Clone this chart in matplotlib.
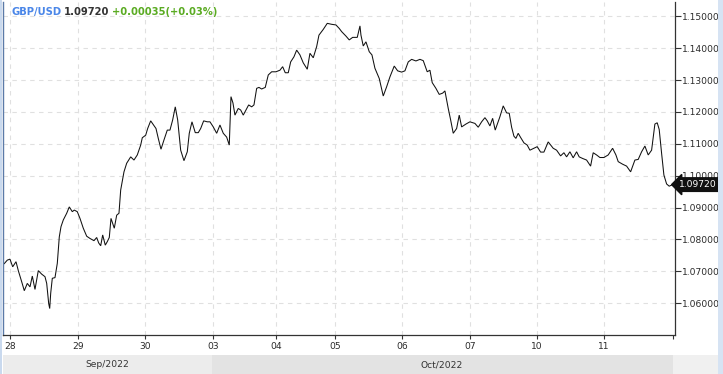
import matplotlib
matplotlib.use("Agg")
import matplotlib.pyplot as plt
from matplotlib.patches import Rectangle
import matplotlib.transforms as mtransforms

# ---- data (hours since start of chart window, GBP/USD price) ----
hours = [0.0, 0.36, 1.56, 2.53, 3.51, 4.71, 5.54, 6.77, 7.71, 8.80, 9.77, 10.61, 11.58, 12.78,
         14.01, 15.20, 15.82, 16.54, 16.91, 17.27, 17.85, 18.82, 19.66, 20.38, 21.0, 21.83, 23.06,
         24.0, 25.09, 25.81, 26.90, 27.87, 29.07, 30.30, 31.49, 32.94, 33.92, 34.64, 35.37, 36.09,
         37.03, 37.76, 38.48, 39.10, 40.29, 41.16, 41.99, 42.61, 43.80, 44.78, 46.23, 47.42, 48.62,
         49.85, 50.43, 51.66, 52.38, 53.47, 55.39, 56.22, 57.20, 58.28, 59.48, 60.45, 61.43, 62.37,
         63.24, 64.33, 65.52, 66.72, 67.44, 68.42, 69.61, 70.70, 71.57, 72.65, 73.96, 74.93, 76.13,
         77.36, 78.55, 79.75, 80.98, 81.92, 82.54, 83.26, 83.98, 85.18, 86.05, 86.99, 87.97, 88.94,
         90.03, 90.86, 91.84, 92.67, 93.65, 94.95, 96.04, 97.27, 98.83, 100.27, 101.25, 102.19,
         103.28, 104.15, 105.34, 106.32, 107.51, 108.71, 110.16, 111.13, 112.33, 113.56, 114.39,
         115.95, 117.40, 118.99, 120.55, 121.74, 122.61, 124.17, 125.36, 126.59, 128.26, 129.24,
         129.60, 130.43, 131.41, 132.60, 133.58, 134.66, 136.22, 137.67, 138.90, 140.09, 141.65,
         142.88, 144.33, 145.52, 146.72, 147.95, 149.50, 150.95, 152.15, 153.59, 154.57, 155.40,
         156.74, 157.94, 159.17, 160.0, 161.20, 162.07, 163.01, 164.24, 165.18, 166.05, 167.61,
         169.05, 170.86, 172.06, 173.29, 174.48, 175.32, 176.29, 177.27, 178.21, 179.91, 181.11,
         182.34, 183.28, 184.15, 184.98, 185.70, 186.53, 187.40, 188.60, 189.79, 190.77, 192.22,
         193.41, 194.64, 195.84, 197.39, 199.20, 200.43, 201.88, 203.08, 204.05, 205.25, 206.44,
         207.67, 208.61, 209.85, 211.29, 212.74, 213.68, 214.91, 216.11, 217.56, 219.11, 220.71,
         221.91, 222.74, 224.33, 225.78, 227.23, 228.78, 229.98, 231.21, 232.40, 233.60, 234.83,
         236.02, 236.86, 237.58, 238.45, 239.28, 240.26, 241.20, 242.43]

prices = [1.0730, 1.0723, 1.0735, 1.0738, 1.0714, 1.0730, 1.0702, 1.0667, 1.0639, 1.0662, 1.0651,
          1.0685, 1.0643, 1.0702, 1.0691, 1.0683, 1.0662, 1.0599, 1.0583, 1.0631, 1.0678, 1.0680,
          1.0725, 1.0808, 1.0840, 1.0861, 1.0882, 1.0902, 1.0887, 1.0892, 1.0887, 1.0866, 1.0835,
          1.0810, 1.0803, 1.0796, 1.0806, 1.0789, 1.0780, 1.0814, 1.0782, 1.0793, 1.0806, 1.0866,
          1.0835, 1.0876, 1.0882, 1.0955, 1.1012, 1.1039, 1.1059, 1.1049, 1.1065, 1.1096, 1.1119,
          1.1127, 1.1148, 1.1172, 1.1148, 1.1117, 1.1083, 1.1112, 1.1143, 1.1143, 1.1175, 1.1216,
          1.1175, 1.1080, 1.1047, 1.1075, 1.1133, 1.1169, 1.1135, 1.1135, 1.1148, 1.1172, 1.1169,
          1.1169, 1.1153, 1.1133, 1.1159, 1.1133, 1.1121, 1.1096, 1.1248, 1.1228, 1.1190, 1.1211,
          1.1206, 1.1190, 1.1206, 1.1222, 1.1216, 1.1222, 1.1274, 1.1277, 1.1272, 1.1277, 1.1316,
          1.1326, 1.1326, 1.1331, 1.1342, 1.1323, 1.1323, 1.1357, 1.1373, 1.1394, 1.1379, 1.1354,
          1.1334, 1.1384, 1.1370, 1.1405, 1.1441, 1.1459, 1.1478, 1.1475, 1.1473, 1.1462, 1.1452,
          1.1438, 1.1426, 1.1434, 1.1434, 1.1470, 1.1441, 1.1407, 1.1420, 1.1389, 1.1379, 1.1337,
          1.1305, 1.1250, 1.1279, 1.1310, 1.1344, 1.1329, 1.1325, 1.1329, 1.1357, 1.1365, 1.1360,
          1.1365, 1.1361, 1.1326, 1.1331, 1.1292, 1.1274, 1.1255, 1.1259, 1.1266, 1.1211, 1.1175,
          1.1133, 1.1148, 1.1190, 1.1153, 1.1162, 1.1169, 1.1164, 1.1152, 1.1169, 1.1182, 1.1172,
          1.1156, 1.1180, 1.1143, 1.1185, 1.1219, 1.1197, 1.1196, 1.1152, 1.1124, 1.1117, 1.1133,
          1.1120, 1.1103, 1.1096, 1.1080, 1.1086, 1.1091, 1.1074, 1.1074, 1.1106, 1.1086, 1.1080,
          1.1062, 1.1072, 1.1059, 1.1075, 1.1056, 1.1075, 1.1059, 1.1054, 1.1049, 1.1030, 1.1072,
          1.1065, 1.1057, 1.1057, 1.1065, 1.1086, 1.1065, 1.1044, 1.1036, 1.1030, 1.1012, 1.1049,
          1.1051, 1.1075, 1.1093, 1.1065, 1.1080, 1.1162, 1.1166, 1.1145, 1.1070, 1.1002, 1.0974,
          1.0967, 1.0972]

tick_hours = [2.53, 27.15, 51.4, 76.0, 98.8, 120.2, 144.4, 169.1, 193.3, 217.6]
tick_labels = ["28", "29", "30", "03", "04", "05", "06", "07", "10", "11"]
price_ticks = [1.06, 1.07, 1.08, 1.09, 1.10, 1.11, 1.12, 1.13, 1.14, 1.15]
month_labels = ["Sep/2022", "Oct/2022"]
symbol = "GBP/USD"
last_price = "1.09720"
change_text = "+0.00035(+0.03%)"

W, H = 723, 374
fig = plt.figure(figsize=(W / 100, H / 100), dpi=100)
fig.patch.set_facecolor("white")

def fx(px):
    return px / W

def fy(py):
    return 1 - py / H

# axes box (pixels): left 3, right 675, top 2, bottom 335
ax = fig.add_axes([fx(3), fy(335), fx(675) - fx(3), fy(2) - fy(335)])
ax.set_facecolor("white")
ax.plot(hours, prices, color="#111111", lw=0.75, solid_joinstyle="miter")

ax.set_xlim(0, 243.3)
ax.set_ylim(1.0500, 1.1545)

ax.set_xticks(tick_hours)
ax.set_xticklabels(tick_labels)
ax.set_xticks([242.6], minor=True)
ax.set_yticks(price_ticks)
ax.set_yticklabels([f"{v:.5f}" for v in price_ticks])

ax.yaxis.tick_right()
ax.tick_params(axis="y", which="major", direction="out", length=4, width=0.8, color="#333333",
               labelsize=6.6, labelcolor="#2a2a2a", pad=1)
ax.tick_params(axis="x", which="both", direction="out", length=3, width=0.8, color="#333333",
               labelsize=6.6, labelcolor="#2a2a2a", pad=2)
for lab in ax.get_xticklabels() + ax.get_yticklabels():
    lab.set_family("DejaVu Sans")

ax.grid(True, which="major", color="#e0e0e0", linestyle=(0, (4, 4)), linewidth=0.8)
ax.set_axisbelow(True)

ax.spines["top"].set_visible(False)
ax.spines["left"].set_color("#5b7aa8")
ax.spines["left"].set_linewidth(1.0)
ax.spines["right"].set_color("#333333")
ax.spines["right"].set_linewidth(0.9)
ax.spines["bottom"].set_color("#333333")
ax.spines["bottom"].set_linewidth(0.9)

# last price marker on the right axis
trans = mtransforms.blended_transform_factory(ax.transAxes, ax.transData)
ax.text(1.0 + 4 / 672, prices[-1], last_price, transform=trans, ha="left", va="center",
        fontsize=6.6, color="white", family="DejaVu Sans",
        bbox=dict(boxstyle="larrow,pad=0.25", fc="#111111", ec="#111111"), clip_on=False,
        zorder=10)

# month bands
fig.patches.append(Rectangle((fx(3), 0), fx(212) - fx(3), fy(355), transform=fig.transFigure,
                             facecolor="#ececec", edgecolor="none", zorder=0))
fig.patches.append(Rectangle((fx(212), 0), fx(673) - fx(212), fy(355), transform=fig.transFigure,
                             facecolor="#e3e3e3", edgecolor="none", zorder=0))
fig.patches.append(Rectangle((fx(673), 0), fx(718) - fx(673), fy(355), transform=fig.transFigure,
                             facecolor="#f0f0f0", edgecolor="none", zorder=0))
fig.text(fx(107), fy(364.5), month_labels[0], ha="center", va="center", fontsize=6.6,
         color="#333333")
fig.text(fx(442), fy(364.5), month_labels[1], ha="center", va="center", fontsize=6.6,
         color="#333333")

# frame strips
fig.patches.append(Rectangle((fx(718), 0), 1 - fx(718), 1, transform=fig.transFigure,
                             facecolor="#d6e3f3", edgecolor="none", zorder=0))
fig.patches.append(Rectangle((0, 0), fx(1.5), 1, transform=fig.transFigure,
                             facecolor="#c9d9ee", edgecolor="none", zorder=0))

# header
fig.text(fx(11), fy(12), symbol, ha="left", va="center", fontsize=7.2, fontweight="bold",
         color="#4a86e8")
fig.text(fx(64), fy(12), last_price, ha="left", va="center", fontsize=7.2, fontweight="bold",
         color="#333333")
fig.text(fx(112), fy(12), change_text, ha="left", va="center", fontsize=7.2, fontweight="bold",
         color="#5aab22")

fig.savefig("out.png", dpi=100, facecolor=fig.get_facecolor())
